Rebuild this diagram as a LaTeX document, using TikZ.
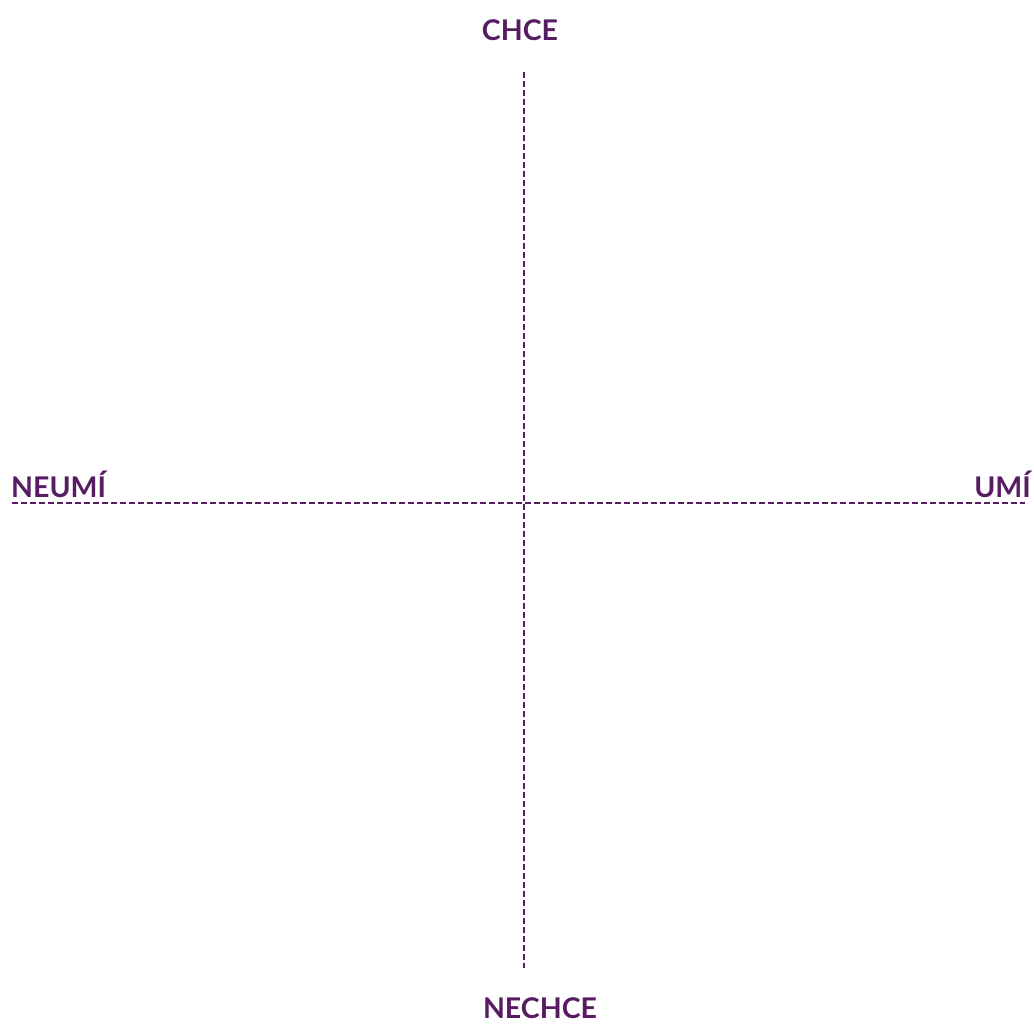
\documentclass[tikz,border=0pt]{standalone}
\usepackage{fontspec}
\setmainfont{Lato}
\definecolor{axispurple}{RGB}{88,28,98}
\begin{document}
\begin{tikzpicture}[x=1pt,y=-1pt,
  axislabel/.style={text=axispurple,font=\fontsize{28.5}{32}\selectfont\bfseries,inner sep=0pt},
  axisline/.style={draw=axispurple,line width=1.8pt,dash pattern=on 6pt off 3pt}]
\useasboundingbox (0,0) rectangle (1034,1025);
\coordinate (top) at (524,72);
\coordinate (bottom) at (524,968);
\coordinate (left) at (12,503);
\coordinate (right) at (1025,503);
\node[axislabel] (chce) at (520,30) {CHCE};
\node[axislabel,anchor=base] (nechce) at (540,1018) {NECHCE};
\node[axislabel,anchor=west] (neumi) at (11,484) {NEUMÍ};
\node[axislabel,anchor=east] (umi) at (1031,484) {UMÍ};
\draw[axisline] (top) -- (bottom);
\draw[axisline] (left) -- (right);
\end{tikzpicture}
\end{document}
